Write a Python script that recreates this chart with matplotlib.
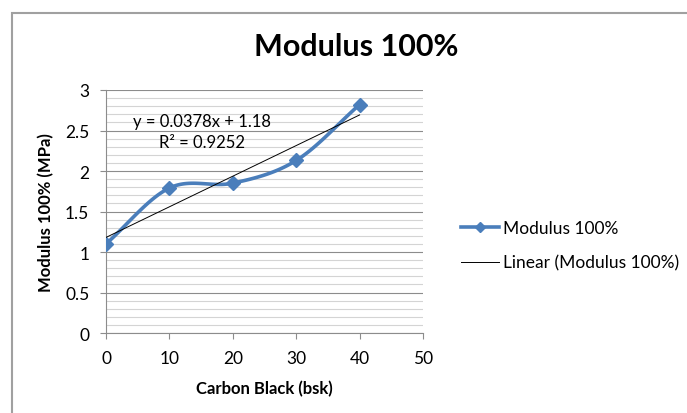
import numpy as np
import matplotlib.pyplot as plt
from matplotlib.ticker import MultipleLocator
from matplotlib.patches import Rectangle

plt.rcParams['font.family'] = ['Lato', 'DejaVu Sans']

carbon_black = [0, 10, 20, 30, 40]
modulus = [1.10, 1.79, 1.85, 2.13, 2.82]
slope = 0.0378
intercept = 1.18
r_squared = 0.9252


def smooth_curve(xs, ys, n=30):
    # Catmull-Rom style smoothing, similar to the spreadsheet "smoothed line"
    xs = np.asarray(xs, float)
    ys = np.asarray(ys, float)
    px = np.concatenate([[2 * xs[0] - xs[1]], xs, [2 * xs[-1] - xs[-2]]])
    py = np.concatenate([[2 * ys[0] - ys[1]], ys, [2 * ys[-1] - ys[-2]]])
    out_x, out_y = [], []
    for i in range(1, len(px) - 2):
        t = np.linspace(0, 1, n)
        for arr, out in ((px, out_x), (py, out_y)):
            p0, p1, p2, p3 = arr[i - 1], arr[i], arr[i + 1], arr[i + 2]
            out.extend(0.5 * (2 * p1 + (-p0 + p2) * t
                              + (2 * p0 - 5 * p1 + 4 * p2 - p3) * t ** 2
                              + (-p0 + 3 * p1 - 3 * p2 + p3) * t ** 3))
    return np.array(out_x), np.array(out_y)


fig = plt.figure(figsize=(6.87, 4.14), dpi=100)
fig.patches.append(Rectangle((0.017, -0.02), 1.0, 0.985, transform=fig.transFigure,
                             fill=False, edgecolor='#a0a0a0', linewidth=1.5))

ax = fig.add_axes([0.1543, 0.1932, 0.4614, 0.587])

sx, sy = smooth_curve(carbon_black, modulus)
ax.plot(sx, sy, color='#4a7ebb', linewidth=2.6, zorder=3)
ax.plot(carbon_black, modulus, linestyle='none', marker='D', markersize=7,
        color='#4a7ebb', zorder=4)
ax.plot([], [], color='#4a7ebb', linewidth=2.6, marker='D', markersize=5,
        label='Modulus 100%')

tx = np.array([carbon_black[0], carbon_black[-1]])
ax.plot(tx, slope * tx + intercept, color='black', linewidth=0.7, zorder=5,
        label='Linear (Modulus 100%)')

ax.text(15.1, 2.62, f'y = {slope}x + {intercept}', ha='center', va='center',
        fontsize=12)
ax.text(15.1, 2.36, f'R² = {r_squared}', ha='center', va='center', fontsize=12)

ax.set_xlim(0, 50)
ax.set_ylim(0, 3)
ax.xaxis.set_major_locator(MultipleLocator(10))
ax.yaxis.set_major_locator(MultipleLocator(0.5))
ax.yaxis.set_minor_locator(MultipleLocator(0.1))
ax.yaxis.set_major_formatter(lambda v, p: f'{v:g}')
ax.grid(which='major', axis='y', color='#8c8c8c', linewidth=0.8)
ax.grid(which='minor', axis='y', color='#d4d4d4', linewidth=0.8)
ax.set_axisbelow(True)
ax.tick_params(axis='both', which='major', labelsize=12.5, length=4,
               color='#8c8c8c', pad=8)
ax.tick_params(axis='y', which='minor', length=0)
for side in ('top', 'right'):
    ax.spines[side].set_visible(False)
for side in ('left', 'bottom'):
    ax.spines[side].set_color('#8c8c8c')

fig.text(0.518, 0.886, 'Modulus 100%', ha='center', va='center',
         fontsize=22, fontweight='bold')
ax.set_xlabel('Carbon Black (bsk)', fontsize=12, fontweight='bold', labelpad=10)
ax.set_ylabel('Modulus 100% (MPa)', fontsize=12, fontweight='bold', labelpad=8)

ax.legend(loc='center left', bbox_to_anchor=(1.12, 0.36), frameon=False,
          fontsize=12.5, handlelength=2.2, labelspacing=1.05, handletextpad=0.2,
          borderpad=0, borderaxespad=0)

fig.savefig('out.png', dpi=100)
